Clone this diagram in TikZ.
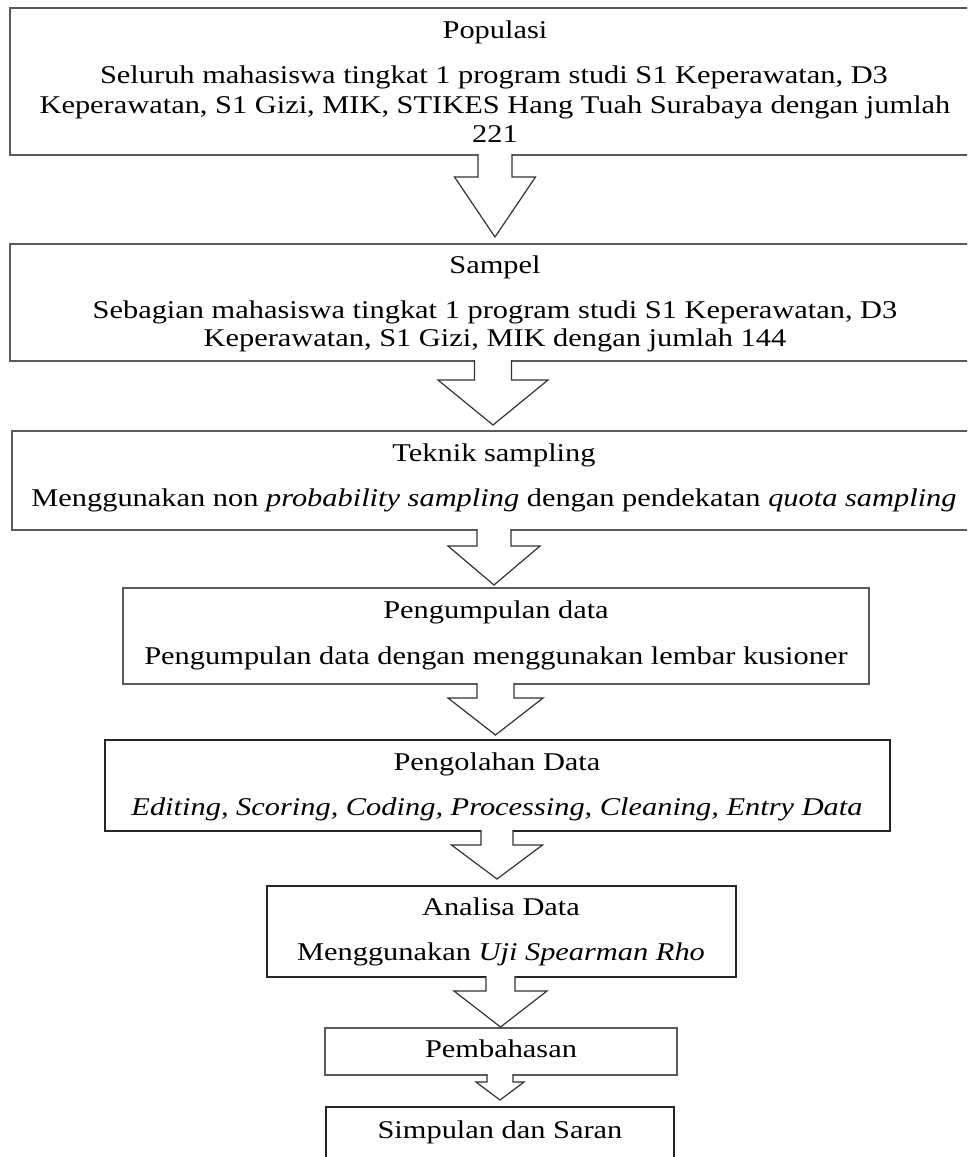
\documentclass[tikz,border=0pt]{standalone}
\usepackage{fontspec}
\setmainfont{Liberation Serif}[FakeStretch=1.19]
\usetikzlibrary{calc}
\definecolor{boxgray}{HTML}{5A5A5A}
\definecolor{boxdark}{HTML}{262626}
\definecolor{arrgray}{HTML}{333333}
\tikzset{
  box/.style={draw=boxgray, line width=1.7pt, inner sep=0pt, outer sep=0pt, anchor=north west},
  darkbox/.style={box, draw=boxdark, line width=1.5pt},
  txt/.style={inner sep=0pt, outer sep=0pt, anchor=base, font=\fontsize{25.55}{29}\selectfont},
  arr/.style={draw=arrgray, fill=white, line width=1.2pt, line join=miter},
}
% block arrow: from node, to node, x centre, shaft half width, head half width, shoulder depth, gap of tip above target
\newcommand\blockarr[7]{%
  \filldraw[arr] let \p1=(#1.south), \p2=(#2.north) in
    (#3pt-#4pt,\y1+0.9pt) -- (#3pt-#4pt,\y1-#6pt) -- (#3pt-#5pt,\y1-#6pt)
    -- (#3pt,\y2+#7pt) -- (#3pt+#5pt,\y1-#6pt) -- (#3pt+#4pt,\y1-#6pt)
    -- (#3pt+#4pt,\y1+0.9pt);
}
\begin{document}
\begin{tikzpicture}[x=1pt,y=-1pt]
\useasboundingbox (0,0) rectangle (967,1157);
\clip (0,0) rectangle (967,1157);

% boxes
\node[box, minimum width=970pt, minimum height=147pt] (b1) at (10,8) {};
\node[box, minimum width=970pt, minimum height=117pt] (b2) at (10,244) {};
\node[box, minimum width=966pt, minimum height=99pt] (b3) at (12,431) {};
\node[box, minimum width=746pt, minimum height=96pt] (b4) at (123,588) {};
\node[darkbox, minimum width=785pt, minimum height=91pt] (b5) at (105,740) {};
\node[darkbox, minimum width=469pt, minimum height=91pt] (b6) at (267,886) {};
\node[box, minimum width=352pt, minimum height=47pt] (b7) at (325,1028) {};
\node[darkbox, minimum width=348pt, minimum height=80pt] (b8) at (326,1107) {};

% arrows
\blockarr{b1}{b2}{495}{17}{40.5}{22}{7}
\blockarr{b2}{b3}{493}{18.5}{55}{19}{6}
\blockarr{b3}{b4}{494}{17}{46}{16}{3}
\blockarr{b4}{b5}{495.5}{18.5}{47.5}{14}{5}
\blockarr{b5}{b6}{497}{16}{45.5}{14}{7}
\blockarr{b6}{b7}{500.5}{14.5}{46.5}{14}{1}
\blockarr{b7}{b8}{500}{13}{24}{7}{7}

% texts
\node[txt] (t1a) at (495,38) {Populasi};
\node[txt] (t1b) at (494,83) {Seluruh mahasiswa tingkat 1 program studi S1 Keperawatan, D3};
\node[txt] (t1c) at (495,113) {Keperawatan, S1 Gizi, MIK, STIKES Hang Tuah Surabaya dengan jumlah};
\node[txt] (t1d) at (495,142) {221};

\node[txt] (t2a) at (495,273) {Sampel};
\node[txt] (t2b) at (495,318) {Sebagian mahasiswa tingkat 1 program studi S1 Keperawatan, D3};
\node[txt] (t2c) at (495,346) {Keperawatan, S1 Gizi, MIK dengan jumlah 144};

\node[txt] (t3a) at (494,461) {Teknik sampling};
\node[txt] (t3b) at (494,506) {Menggunakan non \textit{probability sampling} dengan pendekatan \textit{quota sampling}};

\node[txt] (t4a) at (496,618) {Pengumpulan data};
\node[txt] (t4b) at (496,664) {Pengumpulan data dengan menggunakan lembar kusioner};

\node[txt] (t5a) at (497,770) {Pengolahan Data};
\node[txt] (t5b) at (497,815) {\textit{Editing, Scoring, Coding, Processing, Cleaning, Entry Data}};

\node[txt] (t6a) at (501,915) {Analisa Data};
\node[txt] (t6b) at (501,960) {Menggunakan \textit{Uji Spearman Rho}};

\node[txt] (t7) at (501,1057) {Pembahasan};
\node[txt] (t8) at (500,1138) {Simpulan dan Saran};
\end{tikzpicture}
\end{document}
